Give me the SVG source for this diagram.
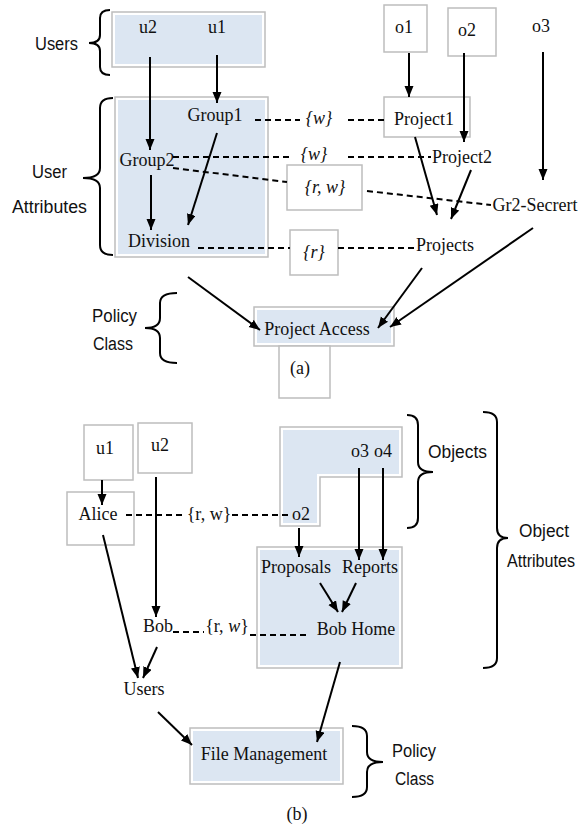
<svg xmlns="http://www.w3.org/2000/svg" width="586" height="826" viewBox="0 0 586 826">
<style>
.box{fill:#ffffff;stroke:#bdbdbd;stroke-width:1.5}
.fb{fill:#dce6f2}
.t{font-family:"Liberation Serif","Times New Roman",serif;font-size:18px;fill:#111;text-anchor:middle}
.s{font-family:"Liberation Sans",Arial,sans-serif;font-size:18px;fill:#111}
.ar{stroke:#000;stroke-width:2;fill:none;marker-end:url(#ah)}
.ln{stroke:#000;stroke-width:2;fill:none}
.da{stroke:#000;stroke-width:2;fill:none;stroke-dasharray:6 4}
.br{stroke:#000;stroke-width:2;fill:none}
</style>
<defs>
<marker id="ah" markerUnits="userSpaceOnUse" markerWidth="12" markerHeight="10" refX="11" refY="4.5" orient="auto">
<path d="M0,0 L11,4.5 L0,9 z" fill="#000"/>
</marker>
</defs>
<rect width="586" height="826" fill="#fff"/>

<!-- (a) -->
<g id="users-box"><rect class="box" x="112" y="12" width="153" height="55"/><rect class="fb" x="115" y="15" width="147" height="49"/></g>
<g id="ua-box"><rect class="box" x="115" y="97" width="153" height="160"/><rect class="fb" x="118" y="100" width="147" height="154"/></g>
<g id="u2a"><text class="t" x="148" y="33">u2</text></g>
<g id="u1a"><text class="t" x="217" y="33">u1</text></g>
<g id="group1"><text class="t" x="215" y="121">Group1</text></g>
<g id="group2"><text class="t" x="147" y="166">Group2</text></g>
<g id="division"><text class="t" x="159" y="247">Division</text></g>
<g id="o1a"><rect class="box" x="384" y="5" width="43" height="47"/><text class="t" x="404" y="33">o1</text></g>
<g id="o2a"><rect class="box" x="448" y="8" width="48" height="48"/><text class="t" x="467" y="36">o2</text></g>
<g id="o3a"><text class="t" x="541" y="32">o3</text></g>
<g id="project1"><rect class="box" x="384" y="97" width="86" height="40"/><text class="t" x="424" y="125">Project1</text></g>
<g id="project2"><text class="t" x="462" y="163">Project2</text></g>
<g id="gr2"><text class="t" x="535" y="211">Gr2-Secrert</text></g>
<g id="projects"><text class="t" x="445" y="251">Projects</text></g>
<g id="w1"><text class="t" x="319" y="124" font-style="italic">{w}</text></g>
<g id="w2"><text class="t" x="314" y="160" font-style="italic">{w}</text></g>
<g id="rw"><rect class="box" x="287" y="165" width="75" height="45"/><text class="t" x="325" y="193" font-style="italic">{r, w}</text></g>
<g id="r"><rect class="box" x="290" y="230" width="48" height="45"/><text class="t" x="314" y="258" font-style="italic">{r}</text></g>
<g id="project-access"><rect class="box" x="254" y="307" width="140" height="39"/><rect class="fb" x="257" y="310" width="134" height="33"/><text class="t" x="317" y="335">Project Access</text></g>
<g id="label-a"><rect class="box" x="279" y="346" width="51" height="52"/><text class="t" x="300" y="374">(a)</text></g>

<g id="brace-labels-a">
<path class="br" d="M110,10 Q100,10 100,18 V35 Q100,43 89,43 Q100,43 100,51 V67 Q100,75 110,75"/>
<text class="s" x="35" y="50" textLength="43" lengthAdjust="spacingAndGlyphs">Users</text>
<path class="br" d="M113,98 Q100,98 100,108 V168 Q100,178 83,178 Q100,178 100,188 V245 Q100,255 113,255"/>
<text class="s" x="32" y="178" textLength="35" lengthAdjust="spacingAndGlyphs">User</text>
<text class="s" x="12" y="213" textLength="75" lengthAdjust="spacingAndGlyphs">Attributes</text>
<path class="br" d="M177,293 Q160,293 160,303 V318 Q160,328 145,328 Q160,328 160,338 V353 Q160,363 177,363"/>
<text class="s" x="92" y="322" textLength="45" lengthAdjust="spacingAndGlyphs">Policy</text>
<text class="s" x="93" y="350" textLength="40" lengthAdjust="spacingAndGlyphs">Class</text>
</g>

<!-- (b) -->
<g id="u1b"><rect class="box" x="84" y="425" width="49" height="55"/><text class="t" x="105" y="454">u1</text></g>
<g id="u2b"><rect class="box" x="138" y="423" width="54" height="50"/><text class="t" x="160" y="451">u2</text></g>
<g id="alice"><rect class="box" x="67" y="492" width="67" height="53"/><text class="t" x="98" y="520">Alice</text></g>
<g id="objects-box"><path class="box" d="M280,427 H402 V477 H320 V526 H280 Z"/><path class="fb" d="M283,430 H399 V474 H317 V523 H283 Z"/></g>
<g id="o3b"><text class="t" x="360" y="457">o3</text></g>
<g id="o4b"><text class="t" x="383" y="457">o4</text></g>
<g id="o2b"><text class="t" x="301" y="520">o2</text></g>
<g id="oa-box"><rect class="box" x="257" y="547" width="145" height="121"/><rect class="fb" x="260" y="550" width="139" height="115"/></g>
<g id="proposals"><text class="t" x="296" y="573">Proposals</text></g>
<g id="reports"><text class="t" x="370" y="573">Reports</text></g>
<g id="bobhome"><text class="t" x="356" y="635">Bob Home</text></g>
<g id="bob"><text class="t" x="158" y="632">Bob</text></g>
<g id="usersb"><text class="t" x="144" y="695">Users</text></g>
<g id="rw-alice"><text class="t" x="209" y="520">{r, w}</text></g>
<g id="rw-bob"><text class="t" x="227" y="632">{r, <tspan font-style="italic">w</tspan>}</text></g>
<g id="file-mgmt"><rect class="box" x="190" y="728" width="153" height="56"/><rect class="fb" x="193" y="731" width="147" height="50"/><text class="t" x="264" y="760">File Management</text></g>
<g id="label-b"><text class="t" x="297" y="820">(b)</text></g>

<g id="brace-labels-b">
<path class="br" d="M407,415 Q418,415 418,425 V462 Q418,472 433,472 Q418,472 418,482 V518 Q418,528 407,528"/>
<text class="s" x="428" y="458" textLength="59" lengthAdjust="spacingAndGlyphs">Objects</text>
<path class="br" d="M483,412 Q497,412 497,422 V528 Q497,538 508,538 Q497,538 497,548 V658 Q497,668 483,668"/>
<text class="s" x="519" y="537" textLength="50" lengthAdjust="spacingAndGlyphs">Object</text>
<text class="s" x="507" y="567" textLength="68" lengthAdjust="spacingAndGlyphs">Attributes</text>
<path class="br" d="M352,726 Q367,726 367,736 V752 Q367,762 383,762 Q367,762 367,772 V787 Q367,797 352,797"/>
<text class="s" x="392" y="757" textLength="44" lengthAdjust="spacingAndGlyphs">Policy</text>
<text class="s" x="395" y="785" textLength="39" lengthAdjust="spacingAndGlyphs">Class</text>
</g>

<g id="connectors">
<line class="ar" x1="150" y1="57" x2="150" y2="150"/>
<line class="ar" x1="217" y1="55" x2="217" y2="103"/>
<line class="ar" x1="151" y1="175" x2="151" y2="230"/>
<line class="ar" x1="217" y1="133" x2="188" y2="225"/>
<line class="ar" x1="409" y1="53" x2="409" y2="97"/>
<line class="ar" x1="464" y1="53" x2="464" y2="142"/>
<line class="ar" x1="543" y1="52" x2="543" y2="180"/>
<line class="ar" x1="415" y1="137" x2="437" y2="215"/>
<line class="ar" x1="471" y1="170" x2="451" y2="219"/>
<line class="ar" x1="188" y1="277" x2="260" y2="330"/>
<line class="ar" x1="422" y1="268" x2="378" y2="328"/>
<line class="ar" x1="533" y1="228" x2="390" y2="327"/>
<line class="da" x1="255" y1="120" x2="300" y2="120"/>
<line class="da" x1="348" y1="120" x2="385" y2="120"/>
<line class="da" x1="173" y1="157" x2="290" y2="157"/>
<line class="da" x1="348" y1="157" x2="431" y2="157"/>
<line class="da" x1="173" y1="168" x2="287" y2="182"/>
<line class="da" x1="367" y1="191" x2="491" y2="205"/>
<line class="da" x1="198" y1="248" x2="290" y2="248"/>
<line class="da" x1="338" y1="248" x2="414" y2="248"/>

<line class="ar" x1="102" y1="480" x2="102" y2="505"/>
<line class="ar" x1="156" y1="477" x2="156" y2="617"/>
<line class="ar" x1="103" y1="535" x2="138" y2="678"/>
<line class="ar" x1="157" y1="647" x2="143" y2="678"/>
<line class="ar" x1="299" y1="528" x2="299" y2="557"/>
<line class="ar" x1="359" y1="468" x2="359" y2="560"/>
<line class="ar" x1="383" y1="468" x2="383" y2="560"/>
<line class="ar" x1="320" y1="583" x2="338" y2="612"/>
<line class="ar" x1="356" y1="583" x2="342" y2="612"/>
<line class="ar" x1="158" y1="712" x2="192" y2="745"/>
<line class="ar" x1="340" y1="662" x2="317" y2="742"/>
<line class="da" x1="126" y1="515" x2="184" y2="515"/>
<line class="da" x1="232" y1="515" x2="289" y2="515"/>
<line class="da" x1="173" y1="632" x2="204" y2="632"/>
<line class="da" x1="250" y1="635" x2="308" y2="635"/>
</g>
</svg>
